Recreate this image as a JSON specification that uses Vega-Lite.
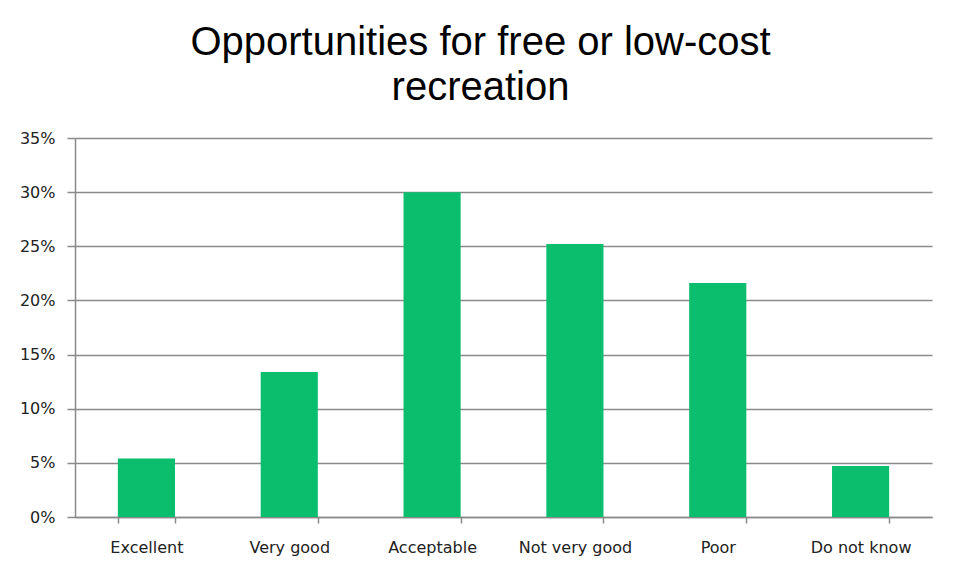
{
  "$schema": "https://vega.github.io/schema/vega-lite/v6.json",
  "width": 857,
  "height": 379,
  "autosize": "none",
  "padding": {"left": 75, "top": 138, "right": 24, "bottom": 58},
  "background": "white",
  "title": {
    "text": ["Opportunities for free or low-cost", "recreation"],
    "font": "Liberation Sans",
    "fontSize": 40,
    "fontWeight": "normal",
    "color": "#000000",
    "anchor": "middle",
    "lineHeight": 45,
    "offset": 22,
    "dx": -23
  },
  "data": {
    "values": [
      {"category": "Excellent", "value": 0.054},
      {"category": "Very good", "value": 0.134},
      {"category": "Acceptable", "value": 0.300},
      {"category": "Not very good", "value": 0.252},
      {"category": "Poor", "value": 0.216},
      {"category": "Do not know", "value": 0.047}
    ]
  },
  "mark": {"type": "bar", "color": "#0BBE6E"},
  "encoding": {
    "x": {
      "field": "category",
      "type": "nominal",
      "sort": null,
      "scale": {"paddingInner": 0.6, "paddingOuter": 0.3},
      "axis": {
        "title": null,
        "labelAngle": 0,
        "labelFont": "DejaVu Sans",
        "labelFontSize": 16,
        "labelColor": "#222222",
        "labelPadding": 16,
        "tickBand": "extent",
        "tickSize": 6,
        "tickColor": "#8a8a8a",
        "domainColor": "#8a8a8a",
        "tickWidth": 1.5,
        "domainWidth": 1.5
      }
    },
    "y": {
      "field": "value",
      "type": "quantitative",
      "scale": {"domain": [0, 0.35]},
      "axis": {
        "title": null,
        "values": [0, 0.05, 0.1, 0.15, 0.2, 0.25, 0.3, 0.35],
        "format": ".0%",
        "labelFont": "DejaVu Sans",
        "labelFontSize": 16,
        "labelColor": "#222222",
        "labelPadding": 12,
        "tickSize": 8,
        "tickColor": "#8a8a8a",
        "domainColor": "#8a8a8a",
        "tickWidth": 1.5,
        "domainWidth": 1.5,
        "grid": true,
        "gridColor": "#8a8a8a",
        "gridWidth": 1.5
      }
    }
  },
  "config": {"view": {"stroke": null}}
}
